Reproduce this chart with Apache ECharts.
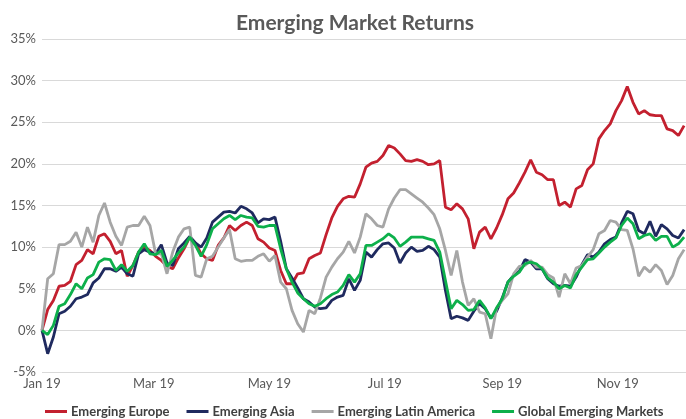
<!DOCTYPE html>
<html>
<head>
<meta charset="utf-8">
<title>Emerging Market Returns</title>
<script src="https://cdn.jsdelivr.net/npm/echarts@6.0.0/dist/echarts.min.js"></script>
<style>
    html, body { margin: 0; padding: 0; background: #fff; }
    #returns { width: 686px; height: 419px; }
</style>
</head>
<body>
<div id="returns"></div>
<script>
// readings every 3 calendar days from 1 Jan 2019, in %
var startDate = '2019-01-01';
var axisDays = 341;
var sampleStep = 3;
var monthNames = ['Jan', 'Feb', 'Mar', 'Apr', 'May', 'Jun', 'Jul', 'Aug', 'Sep', 'Oct', 'Nov', 'Dec'];
var labelMonths = [1, 3, 5, 7, 9, 11];

var europe = [0, 2.5, 3.6, 5.3, 5.4, 5.9, 7.9, 8.4, 9.7, 9.2, 11.3, 11.6, 10.7, 9.2, 9.6, 6.5, 7.8, 9.4, 10.0, 9.6,
    8.9, 8.4, 7.7, 7.4, 8.7, 9.8, 11.2, 10.5, 9.2, 8.6, 8.4, 10.2, 11.1, 12.6, 12.0, 12.6, 13.0, 12.6, 11.0, 10.6,
    9.9, 9.6, 7.2, 5.6, 5.6, 6.8, 6.9, 8.6, 9.0, 9.3, 11.5, 13.5, 14.9, 15.8, 16.1, 16.0, 17.6, 19.6, 20.1, 20.3,
    21.0, 22.2, 21.9, 21.2, 20.4, 20.3, 20.5, 20.3, 19.9, 20.0, 20.4, 14.8, 14.5, 15.2, 14.6, 13.4, 9.8, 11.8, 12.4, 11.0,
    12.3, 13.9, 15.8, 16.5, 17.7, 19.0, 20.5, 19.0, 18.7, 18.1, 18.1, 15.0, 15.4, 14.8, 17.0, 17.4, 19.3, 20.0, 23.0, 24.0,
    24.8, 26.4, 27.6, 29.3, 27.4, 26.0, 26.4, 25.9, 25.8, 25.8, 24.2, 24.0, 23.4, 24.6];
var asia = [0, -2.8, -0.8, 2.0, 2.3, 2.9, 3.8, 4.0, 4.3, 5.7, 6.3, 7.4, 7.4, 7.1, 7.6, 6.8, 6.5, 9.2, 9.7, 9.4,
    9.2, 10.3, 8.1, 7.8, 9.8, 10.5, 11.3, 10.5, 10.0, 11.1, 13.0, 13.6, 14.2, 14.3, 14.1, 14.9, 14.6, 14.1, 12.9, 13.4,
    13.3, 13.6, 10.7, 7.4, 6.3, 5.1, 3.8, 3.4, 2.8, 2.6, 2.7, 3.6, 4.0, 4.2, 6.2, 4.8, 6.0, 9.4, 8.8, 9.7,
    10.4, 10.5, 9.9, 8.1, 9.3, 10.0, 9.5, 9.6, 10.1, 9.7, 8.8, 4.8, 1.4, 1.7, 1.5, 1.2, 2.3, 3.2, 2.6, 1.5,
    2.3, 3.9, 5.8, 6.6, 7.1, 8.5, 8.2, 7.4, 7.4, 6.2, 5.6, 5.3, 5.4, 5.3, 6.4, 7.9, 9.1, 8.8, 9.4, 10.4,
    10.9, 11.2, 12.9, 14.3, 14.0, 12.0, 11.6, 13.1, 11.3, 12.7, 12.2, 11.4, 11.1, 12.1];
var latinAmerica = [0, 6.2, 6.8, 10.3, 10.3, 10.7, 11.8, 10.0, 12.4, 10.6, 13.8, 15.3, 13.0, 11.3, 10.2, 12.4, 12.6, 12.6, 13.7, 12.6,
    9.2, 9.2, 6.8, 9.4, 11.2, 12.2, 12.4, 6.6, 6.4, 8.6, 8.9, 10.0, 11.1, 12.1, 8.6, 8.3, 8.4, 8.4, 8.9, 9.2,
    8.3, 9.0, 5.8, 5.0, 2.4, 0.8, -0.2, 2.4, 2.0, 3.9, 6.4, 7.6, 8.6, 9.4, 10.7, 9.3, 11.2, 14.0, 13.4, 12.6,
    12.4, 14.6, 15.9, 16.9, 16.9, 16.4, 15.9, 15.4, 14.7, 13.9, 12.2, 9.6, 6.6, 9.6, 5.8, 3.0, 3.8, 2.2, 2.0, -1.0,
    2.7, 3.6, 4.4, 6.8, 7.7, 7.8, 8.4, 7.6, 7.6, 6.7, 6.3, 4.0, 6.8, 5.6, 7.5, 7.8, 8.8, 9.7, 11.6, 12.0,
    13.2, 13.0, 12.1, 12.0, 9.8, 6.5, 7.6, 7.0, 7.9, 7.2, 5.5, 6.6, 8.6, 9.7];
var globalEm = [0, -0.5, 0.6, 2.9, 3.2, 4.3, 5.6, 5.0, 6.3, 6.7, 8.2, 8.6, 8.5, 7.2, 7.9, 7.1, 7.8, 9.4, 10.4, 9.2,
    9.1, 9.6, 7.7, 8.4, 9.3, 10.0, 11.2, 10.2, 8.9, 10.3, 12.2, 12.8, 13.4, 13.8, 13.3, 13.8, 13.6, 13.5, 12.5, 12.4,
    12.6, 12.6, 9.8, 7.4, 5.8, 4.5, 3.8, 3.2, 2.9, 3.2, 3.8, 4.3, 4.6, 5.4, 6.7, 5.8, 6.8, 10.2, 10.2, 10.6,
    11.0, 11.6, 11.1, 10.1, 10.6, 11.2, 11.2, 11.2, 11.0, 10.8, 9.4, 6.0, 2.6, 3.6, 3.1, 2.4, 2.5, 3.6, 2.7, 1.4,
    2.7, 3.8, 5.8, 6.5, 7.0, 8.0, 8.2, 8.0, 7.4, 6.3, 5.8, 5.0, 5.4, 5.1, 6.7, 7.6, 8.5, 8.6, 9.3, 10.0,
    10.6, 11.1, 12.6, 13.5, 12.8, 11.0, 11.4, 11.6, 10.8, 11.3, 11.3, 10.0, 10.4, 11.2];

var seriesNames = ['Emerging Europe', 'Emerging Asia', 'Emerging Latin America', 'Global Emerging Markets'];
var seriesColors = ['#c3202f', '#1f2a5f', '#a6a6a6', '#0db04b'];

function dayString(offset) {
    var d = new Date(startDate + 'T00:00:00Z');
    d.setUTCDate(d.getUTCDate() + offset);
    return d.toISOString().slice(0, 10);
}

var days = [];
for (var i = 0; i < axisDays; i++) {
    days.push(dayString(i));
}
var sampleDates = [];
for (var k = 0; k < europe.length; k++) {
    sampleDates.push(dayString(k * sampleStep));
}

function pairs(values) {
    return values.map(function (v, idx) { return [sampleDates[idx], v]; });
}

var myChart = echarts.init(document.getElementById('returns'));
var font = 'Lato, "Open Sans", sans-serif';
var option = {
    animation: false,
    color: seriesColors,
    textStyle: { fontFamily: font },
    title: {
        text: 'Emerging Market Returns',
        left: 350,
        textAlign: 'center',
        top: 8,
        textStyle: { fontFamily: font, fontSize: 21, fontWeight: 'bold', color: '#595959' }
    },
    legend: {
        top: 400,
        left: 40,
        icon: 'rect',
        itemWidth: 22,
        itemHeight: 3,
        itemGap: 17,
        textStyle: { fontFamily: font, fontSize: 13, fontWeight: 'bold', color: '#404040', padding: [0, 0, 0, -1] },
        data: seriesNames
    },
    grid: { left: 42, right: 0, top: 39, bottom: 47 },
    xAxis: {
        type: 'category',
        boundaryGap: false,
        data: days,
        axisLine: { show: false },
        axisTick: { show: false },
        axisLabel: {
            margin: 5,
            fontSize: 13,
            color: '#595959',
            interval: function (index, value) {
                return value.slice(8) === '01' && labelMonths.indexOf(+value.slice(5, 7)) >= 0;
            },
            formatter: function (value) {
                return monthNames[+value.slice(5, 7) - 1] + ' ' + value.slice(2, 4);
            }
        }
    },
    yAxis: {
        type: 'value',
        min: -5,
        max: 35,
        interval: 5,
        axisLine: { show: false },
        axisTick: { show: false },
        axisLabel: { formatter: '{value}%', fontSize: 13, color: '#595959', margin: 6 },
        splitLine: { lineStyle: { color: '#d9d9d9', width: 1 } }
    },
    series: [europe, asia, latinAmerica, globalEm].map(function (values, idx) {
        return {
            name: seriesNames[idx],
            type: 'line',
            showSymbol: false,
            symbol: 'none',
            lineStyle: { width: 2.8, color: seriesColors[idx] },
            data: pairs(values)
        };
    })
};
myChart.setOption(option);
window.addEventListener('resize', function () { myChart.resize(); });
</script>
</body>
</html>
